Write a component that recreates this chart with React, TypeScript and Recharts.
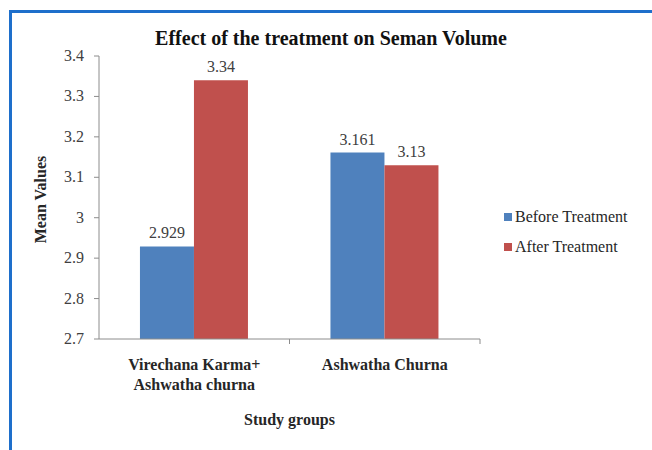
import { BarChart, Bar, XAxis, YAxis, LabelList, Label } from 'recharts';

const groups = ['Virechana Karma+\nAshwatha churna', 'Ashwatha Churna'];
const beforeTreatment = [2.929, 3.161];
const afterTreatment = [3.34, 3.13];
const yTicks = [2.7, 2.8, 2.9, 3, 3.1, 3.2, 3.3, 3.4];

const seriesNames = ['Before Treatment', 'After Treatment'];
const COLORS = ['#4F81BD', '#C0504D'];

const data = groups.map((g, i) => ({
  group: g,
  before: beforeTreatment[i],
  after: afterTreatment[i],
}));

const SERIF = '"Liberation Serif", "Times New Roman", serif';
const W = 652;
const H = 450;
const MARGIN = { top: 56, right: 172, bottom: 31, left: 39 };
const Y_AXIS_W = 60;
const X_AXIS_H = 80;
const BAND_HALF = (W - MARGIN.left - Y_AXIS_W - MARGIN.right) / groups.length / 2;

// category names on two lines, with the Excel-style tick at the right edge of each band
function GroupTick(props: any) {
  const { x, y, payload } = props;
  const half = payload?.offset || BAND_HALF;
  const lines = String(payload.value).split('\n');
  return (
    <g>
      <line x1={x + half} y1={y - 5} x2={x + half} y2={y} stroke="#8c8c8c" />
      <text x={x} y={y + 26} textAnchor="middle" fontFamily={SERIF} fontSize={16} fontWeight="bold" fill="#262626">
        {lines.map((l, i) => (
          <tspan key={i} x={x} dy={i === 0 ? 0 : 20}>
            {l}
          </tspan>
        ))}
      </text>
    </g>
  );
}

function ValueTick(props: any) {
  const { x, y, payload } = props;
  return (
    <text x={x} y={y} dy={5} textAnchor="end" fontFamily={SERIF} fontSize={16} fill="#404040">
      {payload.value}
    </text>
  );
}

function SideLegend() {
  return (
    <div style={{ position: 'absolute', left: 504, top: 202, fontFamily: SERIF, fontSize: 16, color: '#262626' }}>
      {seriesNames.map((name, i) => (
        <div key={name} style={{ display: 'flex', alignItems: 'center', height: 30 }}>
          <span style={{ width: 8, height: 8, background: COLORS[i], marginRight: 3 }} />
          <span>{name}</span>
        </div>
      ))}
    </div>
  );
}

export default function App() {
  return (
    <div
      style={{
        position: 'absolute',
        left: 0,
        top: 0,
        width: W,
        height: H,
        background: '#fff',
        overflow: 'hidden',
        fontFamily: SERIF,
      }}
    >
      {/* frame of the chart area */}
      <div
        style={{
          position: 'absolute',
          left: 9,
          top: 10,
          width: W,
          height: H,
          borderLeft: '3px solid #1e6fcb',
          borderTop: '3px solid #1e6fcb',
        }}
      />
      <div
        style={{
          position: 'absolute',
          left: 0,
          top: 28,
          width: 662,
          textAlign: 'center',
          fontWeight: 'bold',
          fontSize: 20,
          lineHeight: '20px',
          color: '#111',
        }}
      >
        Effect of the treatment on Seman Volume
      </div>
      <SideLegend />
      <div style={{ position: 'absolute', left: 0, top: 0 }}>
        <BarChart
          width={W}
          height={H}
          data={data}
          margin={MARGIN}
          barCategoryGap="21.5%"
          barGap={0}
          style={{ fontFamily: SERIF }}
        >
          <XAxis
            dataKey="group"
            height={X_AXIS_H}
            interval={0}
            tickLine={false}
            tickSize={5}
            tickMargin={0}
            axisLine={{ stroke: '#8c8c8c' }}
            tick={<GroupTick />}
          >
            <Label
              content={(p: any) => {
                const vb = p.viewBox;
                return (
                  <text
                    x={vb.x + vb.width / 2}
                    y={vb.y + 86}
                    textAnchor="middle"
                    fontFamily={SERIF}
                    fontSize={16}
                    fontWeight="bold"
                    fill="#262626"
                  >
                    Study groups
                  </text>
                );
              }}
            />
          </XAxis>
          <YAxis
            width={Y_AXIS_W}
            domain={[2.7, 3.4]}
            ticks={yTicks}
            interval={0}
            tickSize={5}
            tickMargin={10}
            axisLine={{ stroke: '#8c8c8c' }}
            tickLine={{ stroke: '#8c8c8c' }}
            tick={<ValueTick />}
          >
            <Label
              content={(p: any) => {
                const vb = p.viewBox;
                const cx = vb.x + 1;
                const cy = vb.y + vb.height / 2 + 2;
                return (
                  <text
                    x={cx}
                    y={cy}
                    transform={`rotate(-90 ${cx} ${cy})`}
                    textAnchor="middle"
                    dominantBaseline="central"
                    fontFamily={SERIF}
                    fontSize={16}
                    fontWeight="bold"
                    fill="#262626"
                  >
                    Mean Values
                  </text>
                );
              }}
            />
          </YAxis>
          <Bar dataKey="before" name={seriesNames[0]} fill={COLORS[0]} isAnimationActive={false}>
            <LabelList dataKey="before" position="top" offset={8} fontSize={16} fill="#404040" />
          </Bar>
          <Bar dataKey="after" name={seriesNames[1]} fill={COLORS[1]} isAnimationActive={false}>
            <LabelList dataKey="after" position="top" offset={8} fontSize={16} fill="#404040" />
          </Bar>
        </BarChart>
      </div>
    </div>
  );
}
